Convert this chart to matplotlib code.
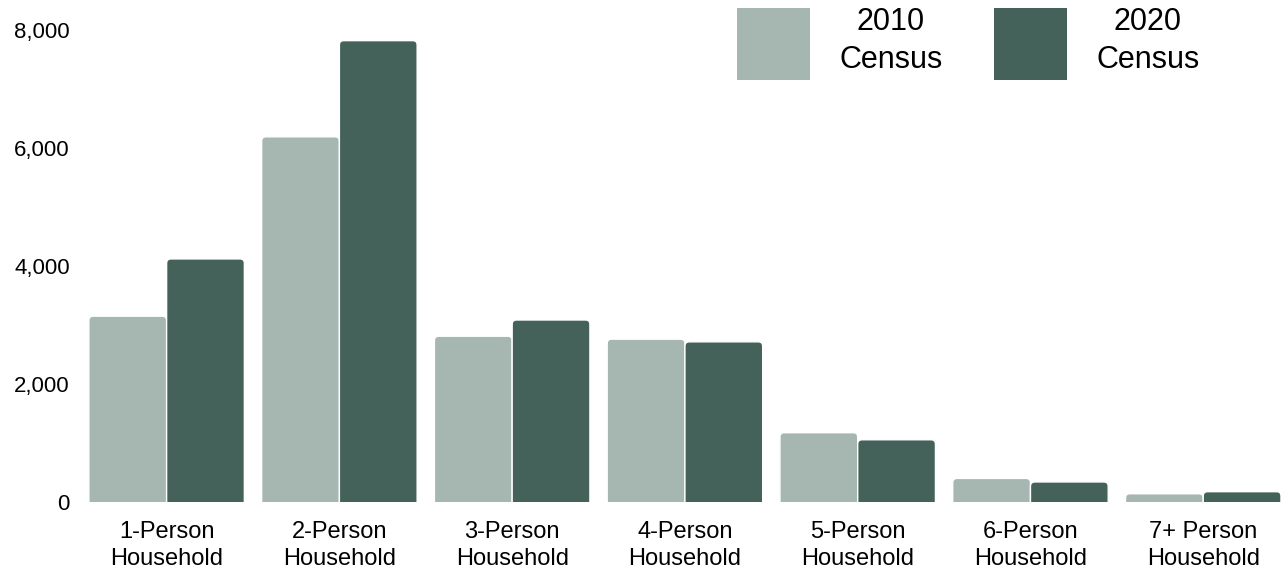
import matplotlib
matplotlib.use('Agg')
import matplotlib.pyplot as plt
import numpy as np
from matplotlib.patches import Patch, FancyBboxPatch
from matplotlib.ticker import FuncFormatter

plt.rcParams['font.family'] = ['Liberation Sans', 'DejaVu Sans']

categorias = ['1-Person\nHousehold', '2-Person\nHousehold', '3-Person\nHousehold',
              '4-Person\nHousehold', '5-Person\nHousehold', '6-Person\nHousehold',
              '7+ Person\nHousehold']
censo2010 = [3150, 6190, 2810, 2760, 1175, 400, 140]
censo2020 = [4120, 7820, 3085, 2715, 1055, 340, 175]
etiquetas = ['2010\nCensus', '2020\nCensus']

color2010 = '#A6B7B1'
color2020 = '#446259'

fig = plt.figure(figsize=(12.83, 5.73), dpi=100)
ax = fig.add_axes([0.0686, 0.1239, 0.9305, 0.8237])

x = np.arange(len(categorias))
ancho = 0.45


def redondear(barras, color):
    # cambia cada barra por una con esquinas redondeadas (abajo queda recortada)
    for r in barras:
        extra = 80
        caja = FancyBboxPatch((r.get_x(), -extra), r.get_width(), r.get_height() + extra,
                              boxstyle='round,pad=0,rounding_size=0.025',
                              mutation_aspect=2900, facecolor=color,
                              edgecolor='white', linewidth=1)
        r.remove()
        ax.add_patch(caja)


b1 = ax.bar(x - ancho / 2, censo2010, width=ancho, color=color2010)
b2 = ax.bar(x + ancho / 2, censo2020, width=ancho, color=color2020)
redondear(b1, color2010)
redondear(b2, color2020)

ax.set_xlim(-0.455, len(categorias) - 0.545)
ax.set_ylim(0, 8000)
ax.set_yticks([0, 2000, 4000, 6000, 8000])
ax.yaxis.set_major_formatter(FuncFormatter(lambda v, p: '{:,.0f}'.format(v)))
ax.set_xticks(x)
ax.set_xticklabels(categorias, linespacing=1.25)
ax.tick_params(axis='y', length=0, pad=13, labelsize=16)
ax.tick_params(axis='x', length=0, pad=14, labelsize=17)
for s in ax.spines.values():
    s.set_visible(False)

manijas = [Patch(facecolor=color2010, edgecolor='none'),
           Patch(facecolor=color2020, edgecolor='none')]
leg = fig.legend(manijas, etiquetas, loc='upper left', bbox_to_anchor=(737 / 1283, 1 - 7 / 573),
                 ncol=2, frameon=False, fontsize=22, handlelength=2.39, handleheight=3.27,
                 handletextpad=0.95, columnspacing=1.7, borderpad=0, borderaxespad=0)
for t in leg.get_texts():
    t.set_multialignment('center')
    t.set_linespacing(1.35)

plt.savefig('out.png', dpi=100, facecolor='w')
